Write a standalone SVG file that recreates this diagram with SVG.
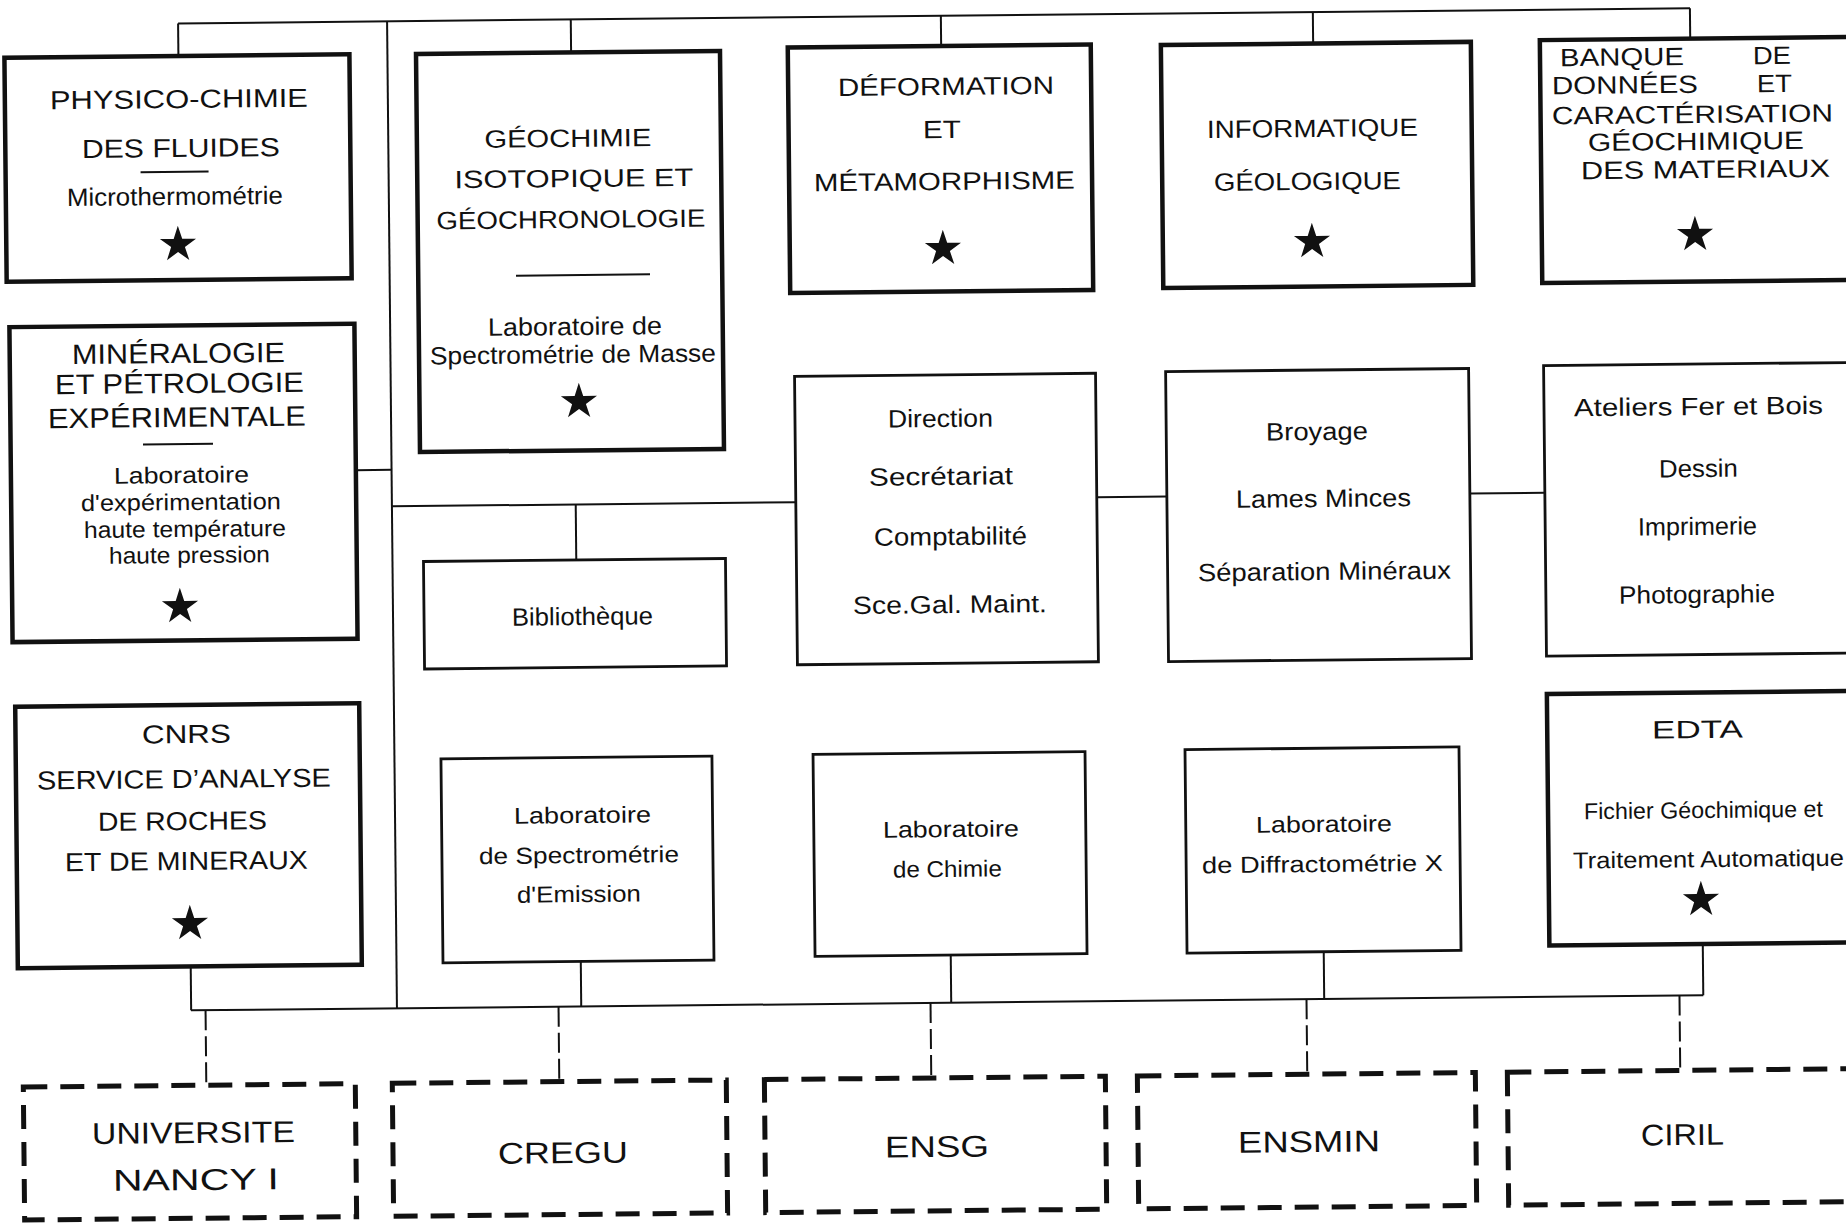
<svg xmlns="http://www.w3.org/2000/svg" width="1846" height="1223" viewBox="0 0 1846 1223">
<style>
text{font-family:"Liberation Sans",Arial,sans-serif;fill:#111;text-anchor:middle}
.cap{font-size:26px}
.capL{font-size:28px}
.low{font-size:25px}
.lowS{font-size:23px}
.big{font-size:30px}
.st{text-anchor:start}
.bold{fill:#fff;stroke:#111;stroke-width:4.5}
.thin{fill:#fff;stroke:#111;stroke-width:2.8}
.dash{fill:#fff;stroke:#111;stroke-width:5;stroke-dasharray:24 13}
.ln{stroke:#111;stroke-width:2;fill:none}
.dl{stroke:#111;stroke-width:2;fill:none;stroke-dasharray:20 6}
.sep{stroke:#111;stroke-width:2}
</style>
<defs>
<polygon id="star" fill="#111" points="0,-17.2 4.27,-4.07 18.07,-4.07 6.9,4.04 11.17,17.17 0,9.06 -11.17,17.17 -6.9,4.04 -18.07,-4.07 -4.27,-4.07"/>
</defs>
<rect width="1846" height="1223" fill="#fff"/>
<g transform="rotate(-0.573 923 611)">
<g id="connectors">
<line class="ln" x1="184" y1="16" x2="1696" y2="16"/>
<line class="ln" x1="184" y1="16" x2="184" y2="48.5"/>
<line class="ln" x1="393" y1="16" x2="393" y2="1003"/>
<line class="ln" x1="576.7" y1="16" x2="576.7" y2="49"/>
<line class="ln" x1="946.8" y1="16" x2="946.8" y2="46.2"/>
<line class="ln" x1="1318.8" y1="16" x2="1318.8" y2="47.4"/>
<line class="ln" x1="1695.9" y1="16" x2="1695.9" y2="46.3"/>
<line class="ln" x1="357.3" y1="464.5" x2="393" y2="464.5"/>
<line class="ln" x1="393" y1="501" x2="797" y2="501"/>
<line class="ln" x1="576.8" y1="501" x2="576.8" y2="556.5"/>
<line class="ln" x1="1098" y1="499" x2="1168" y2="499"/>
<line class="ln" x1="1471" y1="499" x2="1546" y2="499"/>
<line class="ln" x1="187" y1="1003" x2="1699.4" y2="1003"/>
<line class="ln" x1="187.2" y1="959.1" x2="187.2" y2="1003"/>
<line class="ln" x1="577.3" y1="958" x2="577.3" y2="1003"/>
<line class="ln" x1="947.3" y1="955.3" x2="947.3" y2="1003"/>
<line class="ln" x1="1320.3" y1="955.7" x2="1320.3" y2="1003"/>
<line class="ln" x1="1699.4" y1="951.8" x2="1699.4" y2="1003"/>
<line class="dl" x1="201.6" y1="1003" x2="201.6" y2="1078"/>
<line class="dl" x1="554.6" y1="1003" x2="554.6" y2="1078"/>
<line class="dl" x1="926.6" y1="1003" x2="926.6" y2="1078"/>
<line class="dl" x1="1302.6" y1="1003" x2="1302.6" y2="1078"/>
<line class="dl" x1="1675.6" y1="1003" x2="1675.6" y2="1078"/>
</g>
<g id="physico-chimie">
<rect class="bold" x="10" y="48.5" width="345" height="224"/>
<text class="cap" x="184" y="100.6" textLength="258" lengthAdjust="spacingAndGlyphs">PHYSICO-CHIMIE</text>
<text class="cap" x="185.5" y="149.6" textLength="198" lengthAdjust="spacingAndGlyphs">DES FLUIDES</text>
<line class="sep" x1="145" y1="164.5" x2="213" y2="164.5"/>
<text class="low" x="179" y="197.5" textLength="216" lengthAdjust="spacingAndGlyphs">Microthermométrie</text>
<use href="#star" x="181.7" y="235.5"/>
</g>
<g id="geochimie">
<rect class="bold" x="421.6" y="49" width="304" height="398"/>
<text class="low" x="572.6" y="143.4" textLength="167" lengthAdjust="spacingAndGlyphs">GÉOCHIMIE</text>
<text class="low" x="578.2" y="183.5" textLength="239" lengthAdjust="spacingAndGlyphs">ISOTOPIQUE ET</text>
<text class="low" x="574.8" y="224.5" textLength="269" lengthAdjust="spacingAndGlyphs">GÉOCHRONOLOGIE</text>
<line class="sep" x1="519.4" y1="271.6" x2="653.4" y2="271.6"/>
<text class="low" x="577.8" y="331.5" textLength="174" lengthAdjust="spacingAndGlyphs">Laboratoire de</text>
<text class="low" x="575.5" y="359.5" textLength="286" lengthAdjust="spacingAndGlyphs">Spectrométrie de Masse</text>
<use href="#star" x="581.1" y="396.6"/>
</g>
<g id="mineralogie">
<rect class="bold" x="12.3" y="318" width="345" height="315"/>
<text class="capL" x="181" y="355.6" textLength="213" lengthAdjust="spacingAndGlyphs">MINÉRALOGIE</text>
<text class="capL" x="181.7" y="385.6" textLength="249" lengthAdjust="spacingAndGlyphs">ET PÉTROLOGIE</text>
<text class="capL" x="178.8" y="419.5" textLength="258" lengthAdjust="spacingAndGlyphs">EXPÉRIMENTALE</text>
<line class="sep" x1="144.7" y1="436.6" x2="214.7" y2="436.6"/>
<text class="lowS" x="182.8" y="475.6" textLength="135" lengthAdjust="spacingAndGlyphs">Laboratoire</text>
<text class="lowS" x="182" y="502.6" textLength="200" lengthAdjust="spacingAndGlyphs">d'expérimentation</text>
<text class="lowS" x="185.7" y="529.6" textLength="202" lengthAdjust="spacingAndGlyphs">haute température</text>
<text class="lowS" x="190" y="555.6" textLength="161" lengthAdjust="spacingAndGlyphs">haute pression</text>
<use href="#star" x="180.1" y="597.6"/>
</g>
<g id="cnrs">
<rect class="bold" x="14.3" y="697.6" width="344" height="261.5"/>
<text class="cap" x="185.2" y="735.6" textLength="89" lengthAdjust="spacingAndGlyphs">CNRS</text>
<text class="cap" x="182.2" y="780.6" textLength="294" lengthAdjust="spacingAndGlyphs">SERVICE D’ANALYSE</text>
<text class="cap" x="180.3" y="822.6" textLength="169" lengthAdjust="spacingAndGlyphs">DE ROCHES</text>
<text class="cap" x="183.9" y="862.6" textLength="243" lengthAdjust="spacingAndGlyphs">ET DE MINERAUX</text>
<use href="#star" x="186.9" y="914.7"/>
</g>
<g id="deformation">
<rect class="bold" x="793.4" y="46.2" width="303" height="245.5"/>
<text class="low" x="951.2" y="95.2" textLength="216" lengthAdjust="spacingAndGlyphs">DÉFORMATION</text>
<text class="low" x="946.7" y="138.2" textLength="38" lengthAdjust="spacingAndGlyphs">ET</text>
<text class="low" x="948.7" y="190.2" textLength="261" lengthAdjust="spacingAndGlyphs">MÉTAMORPHISME</text>
<use href="#star" x="946.6" y="247.2"/>
</g>
<g id="informatique">
<rect class="bold" x="1166.5" y="47.4" width="310" height="243"/>
<text class="low" x="1317.2" y="140.9" textLength="211" lengthAdjust="spacingAndGlyphs">INFORMATIQUE</text>
<text class="low" x="1311.7" y="193.8" textLength="187" lengthAdjust="spacingAndGlyphs">GÉOLOGIQUE</text>
<use href="#star" x="1315.7" y="243.9"/>
</g>
<g id="banque">
<rect class="bold" x="1545.5" y="46.3" width="330" height="243"/>
<text class="low st" x="1565.5" y="72.6" textLength="124" lengthAdjust="spacingAndGlyphs">BANQUE</text>
<text class="low st" x="1758.5" y="72.6" textLength="38" lengthAdjust="spacingAndGlyphs">DE</text>
<text class="low st" x="1557.2" y="100.5" textLength="146" lengthAdjust="spacingAndGlyphs">DONNÉES</text>
<text class="low st" x="1762.2" y="100.5" textLength="35" lengthAdjust="spacingAndGlyphs">ET</text>
<text class="low" x="1697.4" y="130.7" textLength="281" lengthAdjust="spacingAndGlyphs">CARACTÉRISATION</text>
<text class="low" x="1700.6" y="157.7" textLength="216" lengthAdjust="spacingAndGlyphs">GÉOCHIMIQUE</text>
<text class="low" x="1709.8" y="185.8" textLength="249" lengthAdjust="spacingAndGlyphs">DES MATERIAUX</text>
<use href="#star" x="1698.8" y="240.7"/>
</g>
<g id="direction">
<rect class="thin" x="796.9" y="375" width="301" height="288.5"/>
<text class="low" x="942.3" y="427.2" textLength="105" lengthAdjust="spacingAndGlyphs">Direction</text>
<text class="low" x="942.3" y="485.2" textLength="144" lengthAdjust="spacingAndGlyphs">Secrétariat</text>
<text class="low" x="951.2" y="545.3" textLength="153" lengthAdjust="spacingAndGlyphs">Comptabilité</text>
<text class="low" x="950" y="613.3" textLength="194" lengthAdjust="spacingAndGlyphs">Sce.Gal. Maint.</text>
</g>
<g id="broyage">
<rect class="thin" x="1168" y="374" width="303" height="290"/>
<text class="low" x="1318.7" y="443.9" textLength="102" lengthAdjust="spacingAndGlyphs">Broyage</text>
<text class="low" x="1324.5" y="511" textLength="175" lengthAdjust="spacingAndGlyphs">Lames Minces</text>
<text class="low" x="1324.8" y="584" textLength="253" lengthAdjust="spacingAndGlyphs">Séparation Minéraux</text>
</g>
<g id="ateliers">
<rect class="thin" x="1546" y="371.8" width="330" height="290.5"/>
<text class="low" x="1700.5" y="422.8" textLength="249" lengthAdjust="spacingAndGlyphs">Ateliers Fer et Bois</text>
<text class="low" x="1699.8" y="484.8" textLength="79" lengthAdjust="spacingAndGlyphs">Dessin</text>
<text class="low" x="1698.3" y="542.7" textLength="119" lengthAdjust="spacingAndGlyphs">Imprimerie</text>
<text class="low" x="1697.1" y="610.7" textLength="156" lengthAdjust="spacingAndGlyphs">Photographie</text>
</g>
<g id="bibliotheque">
<rect class="thin" x="424" y="556.5" width="302" height="107.5"/>
<text class="low" x="582.4" y="621.6" textLength="141" lengthAdjust="spacingAndGlyphs">Bibliothèque</text>
</g>
<g id="spectrometrie-emission">
<rect class="thin" x="439.5" y="754" width="271" height="204"/>
<text class="lowS" x="580.4" y="819.6" textLength="137" lengthAdjust="spacingAndGlyphs">Laboratoire</text>
<text class="lowS" x="576.5" y="859.6" textLength="200" lengthAdjust="spacingAndGlyphs">de Spectrométrie</text>
<text class="lowS" x="576.1" y="898.6" textLength="124" lengthAdjust="spacingAndGlyphs">d'Emission</text>
</g>
<g id="chimie">
<rect class="thin" x="811.6" y="753.3" width="272" height="202"/>
<text class="lowS" x="948.7" y="837.3" textLength="136" lengthAdjust="spacingAndGlyphs">Laboratoire</text>
<text class="lowS" x="944.8" y="877.2" textLength="109" lengthAdjust="spacingAndGlyphs">de Chimie</text>
</g>
<g id="diffractometrie">
<rect class="thin" x="1183.6" y="752.2" width="274" height="203.5"/>
<text class="lowS" x="1321.8" y="836" textLength="136" lengthAdjust="spacingAndGlyphs">Laboratoire</text>
<text class="lowS" x="1319.9" y="876" textLength="241" lengthAdjust="spacingAndGlyphs">de Diffractométrie X</text>
</g>
<g id="edta">
<rect class="bold" x="1546" y="700.3" width="330" height="251.5"/>
<text class="low" x="1696.2" y="745.7" textLength="91" lengthAdjust="spacingAndGlyphs">EDTA</text>
<text class="lowS" x="1701.4" y="825.8" textLength="239" lengthAdjust="spacingAndGlyphs">Fichier Géochimique et</text>
<text class="lowS" x="1705.9" y="874.9" textLength="271" lengthAdjust="spacingAndGlyphs">Traitement Automatique</text>
<use href="#star" x="1698.1" y="905.8"/>
</g>
<g id="universite">
<rect class="dash" x="18.6" y="1078" width="332" height="133"/>
<text class="big" x="188.2" y="1135.7" textLength="203" lengthAdjust="spacingAndGlyphs">UNIVERSITE</text>
<text class="big" x="190.2" y="1182.7" textLength="166" lengthAdjust="spacingAndGlyphs">NANCY I</text>
</g>
<g id="cregu">
<rect class="dash" x="387.6" y="1078" width="334" height="133"/>
<text class="big" x="557.5" y="1159.4" textLength="130" lengthAdjust="spacingAndGlyphs">CREGU</text>
</g>
<g id="ensg">
<rect class="dash" x="759.7" y="1078" width="341" height="133"/>
<text class="big" x="931.5" y="1157.1" textLength="104" lengthAdjust="spacingAndGlyphs">ENSG</text>
</g>
<g id="ensmin">
<rect class="dash" x="1132.7" y="1078" width="338" height="133"/>
<text class="big" x="1303.6" y="1155.9" textLength="142" lengthAdjust="spacingAndGlyphs">ENSMIN</text>
</g>
<g id="ciril">
<rect class="dash" x="1502.7" y="1078" width="360" height="133"/>
<text class="big" x="1677.2" y="1152.6" textLength="83" lengthAdjust="spacingAndGlyphs">CIRIL</text>
</g>
</g>
</svg>
